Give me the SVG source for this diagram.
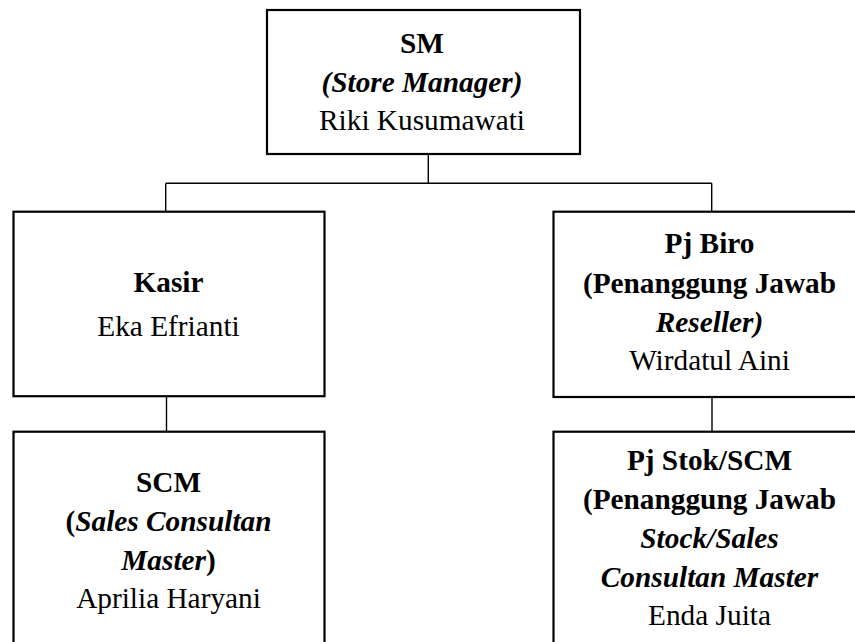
<svg xmlns="http://www.w3.org/2000/svg" width="855" height="642" viewBox="0 0 855 642">
<style>
.box{fill:#fff;stroke:#000;stroke-width:2.2}
.con{fill:none;stroke:#000;stroke-width:1.4}
text{font-family:'Liberation Serif','Times New Roman',serif;font-size:29.3px;fill:#000;text-anchor:middle}
.b{font-weight:bold}
.bi{font-weight:bold;font-style:italic}
</style>
<rect width="855" height="642" fill="#fff"/>
<g id="connectors">
<line class="con" x1="428.3" y1="154" x2="428.3" y2="183.3"/>
<line class="con" x1="165.7" y1="183.3" x2="711.7" y2="183.3"/>
<line class="con" x1="165.7" y1="183.3" x2="165.7" y2="211.7"/>
<line class="con" x1="711.7" y1="183.3" x2="711.7" y2="211.7"/>
<line class="con" x1="166.5" y1="396" x2="166.5" y2="431.7"/>
<line class="con" x1="712" y1="397" x2="712" y2="431.7"/>
</g>
<g id="sm">
<rect class="box" x="267" y="10" width="313" height="144"/>
<text x="422" y="53" class="b">SM</text>
<text x="422" y="92" class="bi">(Store Manager)</text>
<text x="422" y="130">Riki Kusumawati</text>
</g>
<g id="kasir">
<rect class="box" x="13.5" y="211.7" width="311" height="184.5"/>
<text x="168.5" y="291.7" class="b">Kasir</text>
<text x="168.5" y="335.5">Eka Efrianti</text>
</g>
<g id="pjbiro">
<rect class="box" x="553.5" y="211.7" width="314" height="185.3"/>
<text x="709.5" y="253.3" class="b">Pj Biro</text>
<text x="709.5" y="292.5" class="b">(Penanggung Jawab</text>
<text x="709.5" y="331.7" class="bi">Reseller)</text>
<text x="709.5" y="370">Wirdatul Aini</text>
</g>
<g id="scm">
<rect class="box" x="13.5" y="431.7" width="311" height="230"/>
<text x="168.5" y="491.7" class="b">SCM</text>
<text x="168.5" y="530.5" class="b">(<tspan class="bi">Sales Consultan</tspan></text>
<text x="168.5" y="569.5" class="b"><tspan class="bi">Master</tspan>)</text>
<text x="168.5" y="608.3">Aprilia Haryani</text>
</g>
<g id="pjstok">
<rect class="box" x="553.5" y="431.7" width="314" height="230"/>
<text x="709.5" y="470" class="b">Pj Stok/SCM</text>
<text x="709.5" y="508.5" class="b">(Penanggung Jawab</text>
<text x="709.5" y="548" class="bi">Stock/Sales</text>
<text x="709.5" y="586.7" class="bi">Consultan Master</text>
<text x="709.5" y="625">Enda Juita</text>
</g>
</svg>
